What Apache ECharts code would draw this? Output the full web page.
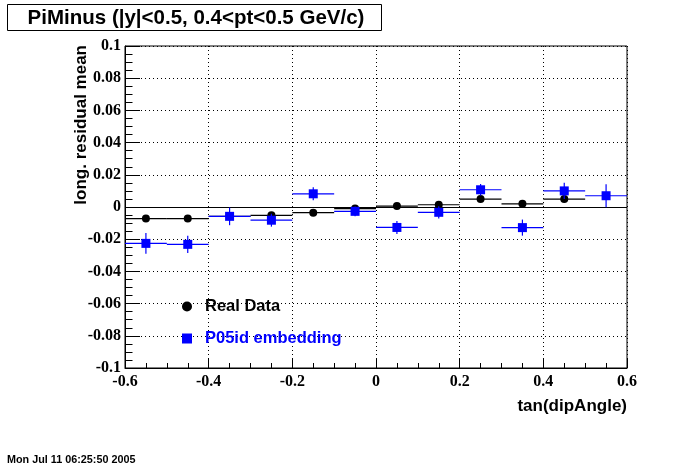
<!DOCTYPE html>
<html>
<head>
<meta charset="utf-8">
<script src="https://cdn.jsdelivr.net/npm/echarts@6/dist/echarts.min.js"></script>
<style>
html,body{margin:0;padding:0;background:#fff;}
#chart{width:696px;height:468px;}
</style>
</head>
<body>
<div id="chart"></div>
<script>
// Bin centres of tan(dipAngle)
const binCenters = [-0.55, -0.45, -0.35, -0.25, -0.15, -0.05, 0.05, 0.15, 0.25, 0.35, 0.45, 0.55];
const binHalfWidth = 0.05;
// Real Data
const realMean = [-0.0072, -0.0072, -0.0058, -0.0052, -0.0035, -0.0010, 0.0006, 0.0014, 0.0049, 0.0020, 0.0049, null];
const realErr  = [0.0020, 0.0020, 0.0020, 0.0020, 0.0015, 0.0015, 0.0015, 0.0015, 0.0018, 0.0015, 0.0018, null];
// P05id embedding
const embMean = [-0.0226, -0.0232, -0.0058, -0.0082, 0.0082, -0.0027, -0.0127, -0.0033, 0.0107, -0.0128, 0.0100, 0.0070];
const embErr  = [0.0064, 0.0053, 0.0055, 0.0040, 0.0040, 0.0030, 0.0040, 0.0038, 0.0036, 0.0050, 0.0050, 0.0072];
// Axis ticks
const xTicks = { min: -0.6, max: 0.6, interval: 0.2 };
const yTicks = { min: -0.1, max: 0.1, interval: 0.02 };

const titleText = 'PiMinus (|y|<0.5, 0.4<pt<0.5 GeV/c)';
const xTitle = 'tan(dipAngle)';
const yTitle = 'long. residual mean';
const dateText = 'Mon Jul 11 06:25:50 2005';

function pts(mean, err) {
  const out = [];
  for (let i = 0; i < binCenters.length; i++) {
    if (mean[i] === null) continue;
    out.push([binCenters[i], mean[i], err[i]]);
  }
  return out;
}
function errRender(color) {
  return function (params, api) {
    const x = api.value(0), y = api.value(1), e = api.value(2);
    const l = api.coord([x - binHalfWidth, y]);
    const r = api.coord([x + binHalfWidth, y]);
    const t = api.coord([x, y + e]);
    const b = api.coord([x, y - e]);
    return {
      type: 'group',
      children: [
        { type: 'line', shape: { x1: l[0], y1: l[1], x2: r[0], y2: r[1] }, style: { stroke: color, lineWidth: 1.2 } },
        { type: 'line', shape: { x1: t[0], y1: t[1], x2: b[0], y2: b[1] }, style: { stroke: color, lineWidth: 1.2 } }
      ]
    };
  };
}
const realPts = pts(realMean, realErr);
const embPts = pts(embMean, embErr);

const labelFont = { fontFamily: 'Liberation Serif', fontWeight: 'bold', fontSize: 16, color: '#000' };
const chart = echarts.init(document.getElementById('chart'), null, { renderer: 'canvas' });
chart.setOption({
  backgroundColor: '#fff',
  animation: false,
  grid: { left: 125, right: 69, top: 46, bottom: 100, show: true, borderColor: '#000', borderWidth: 1, backgroundColor: 'transparent' },
  xAxis: {
    type: 'value', min: xTicks.min, max: xTicks.max, interval: xTicks.interval,
    axisLine: { show: true, onZero: false, lineStyle: { color: '#000', width: 1 } },
    axisTick: { show: true, inside: true, length: 10, lineStyle: { color: '#000' } },
    minorTick: { show: true, splitNumber: 4, length: 5, lineStyle: { color: '#000' } },
    splitLine: { show: true, lineStyle: { color: '#000', width: 1, type: [1, 3] } },
    axisLabel: Object.assign({ margin: 6, formatter: v => String(Math.round(v * 10) / 10) }, labelFont)
  },
  yAxis: {
    type: 'value', min: yTicks.min, max: yTicks.max, interval: yTicks.interval,
    axisLine: { show: true, onZero: false, lineStyle: { color: '#000', width: 1 } },
    axisTick: { show: true, inside: true, length: 15, lineStyle: { color: '#000' } },
    minorTick: { show: true, splitNumber: 4, length: 7.5, lineStyle: { color: '#000' } },
    splitLine: { show: true, lineStyle: { color: '#000', width: 1, type: [1, 3] } },
    axisLabel: Object.assign({ margin: 4, formatter: v => String(Math.round(v * 100) / 100) }, labelFont)
  },
  legend: {
    orient: 'vertical', left: 177, top: 293, itemGap: 15,
    itemWidth: 10, itemHeight: 10,
    textStyle: { fontFamily: 'Liberation Sans', fontWeight: 'bold', fontSize: 16.5, padding: [0, 0, 0, 8] },
    data: [
      { name: 'Real Data', icon: 'circle', itemStyle: { opacity: 1 }, textStyle: { color: '#000' } },
      { name: 'P05id embedding', icon: 'rect', itemStyle: { opacity: 1 }, textStyle: { color: '#0000ff' } }
    ]
  },
  graphic: [
    { type: 'rect', shape: { x: 7.5, y: 4.5, width: 374, height: 26 }, style: { fill: '#fff', stroke: '#000', lineWidth: 1 }, z: 10 },
    { type: 'text', x: 196, y: 18, z: 11, style: { text: titleText, font: 'bold 20.5px "Liberation Sans"', fill: '#000', textAlign: 'center', textVerticalAlign: 'middle' } },
    { type: 'text', x: 627, y: 406, style: { text: xTitle, font: 'bold 17px "Liberation Sans"', fill: '#000', textAlign: 'right', textVerticalAlign: 'middle' } },
    { type: 'text', x: 81, y: 45, rotation: Math.PI / 2, style: { text: yTitle, font: 'bold 17px "Liberation Sans"', fill: '#000', textAlign: 'right', textVerticalAlign: 'middle' } },
    { type: 'text', x: 7, y: 460, style: { text: dateText, font: 'bold 10.8px "Liberation Sans"', fill: '#000', textAlign: 'left', textVerticalAlign: 'middle' } }
  ],
  series: [
    {
      name: 'Real Data err', type: 'custom', renderItem: errRender('#000'), data: realPts, z: 3,
      encode: { x: 0, y: 1 }, silent: true
    },
    {
      name: 'Real Data', type: 'scatter', data: realPts.map(p => [p[0], p[1]]), symbol: 'circle', symbolSize: 8,
      itemStyle: { color: '#000', opacity: 1 }, z: 4,
      markLine: {
        silent: true, symbol: 'none', label: { show: false },
        lineStyle: { color: '#000', width: 1, type: 'solid' },
        data: [{ yAxis: 0 }]
      }
    },
    {
      name: 'P05id embedding err', type: 'custom', renderItem: errRender('#0000ff'), data: embPts, z: 5,
      encode: { x: 0, y: 1 }, silent: true
    },
    {
      name: 'P05id embedding', type: 'scatter', data: embPts.map(p => [p[0], p[1]]), symbol: 'rect', symbolSize: 9,
      itemStyle: { color: '#0000ff', opacity: 1 }, z: 6
    }
  ]
});
</script>
</body>
</html>
